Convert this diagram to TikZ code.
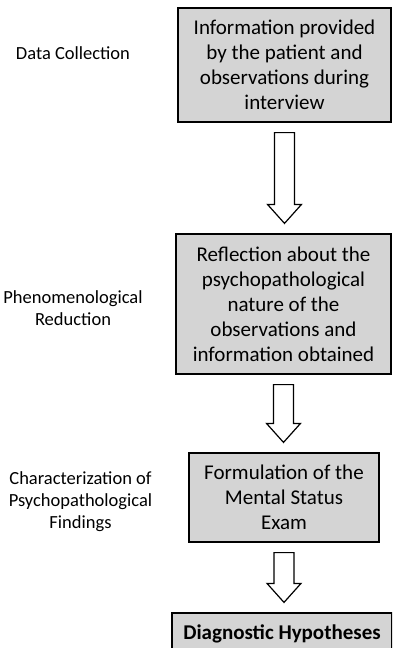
\documentclass[tikz,border=0pt]{standalone}
\usepackage{fontspec}
\setmainfont{Carlito}
\usetikzlibrary{calc}
\newcommand{\hollowarrow}[2]{%
  \draw[arrowline] let \p1=($(#1.south)+(0,10)$), \p2=($(#2.north)+(0,-10)$) in
    (\x1-10,\y1) -- (\x1+10,\y1) -- (\x1+10,\y2+19) -- (\x1+17,\y2+19) -- (\x1,\y2) -- (\x1-17,\y2+19) -- (\x1-10,\y2+19) -- cycle;}
\begin{document}
\begin{tikzpicture}[x=1pt,y=-1pt,
  procbox/.style={draw,line width=1.2pt,fill=gray!34,align=center,font=\fontsize{21}{25}\selectfont,inner sep=0pt},
  steplabel/.style={align=center,font=\fontsize{18.5}{22}\selectfont},
  arrowline/.style={line width=1.2pt,line join=miter}]
  \clip (0,0) rectangle (392,648);
  \node[procbox,minimum width=213,minimum height=114] (info) at (284.5,65) {Information provided\\by the patient and\\observations during\\interview};
  \node[procbox,minimum width=215,minimum height=140] (reflect) at (283.5,304) {Reflection about the\\psychopathological\\nature of the\\observations and\\information obtained};
  \node[procbox,minimum width=190,minimum height=89] (mse) at (284,497.5) {Formulation of the\\Mental Status\\Exam};
  \node[procbox,minimum width=220,minimum height=42,font=\fontsize{21}{25}\selectfont\bfseries] (diag) at (282,634) {Diagnostic Hypotheses};

  \node[steplabel] (collect) at (73,53) {Data Collection};
  \node[steplabel] (reduct) at (73,308) {Phenomenological\\Reduction};
  \node[steplabel] (charact) at (80.5,502) {Characterization of\\Psychopathological\\Findings};

  \hollowarrow{info}{reflect}
  \hollowarrow{reflect}{mse}
  \hollowarrow{mse}{diag}
\end{tikzpicture}
\end{document}
